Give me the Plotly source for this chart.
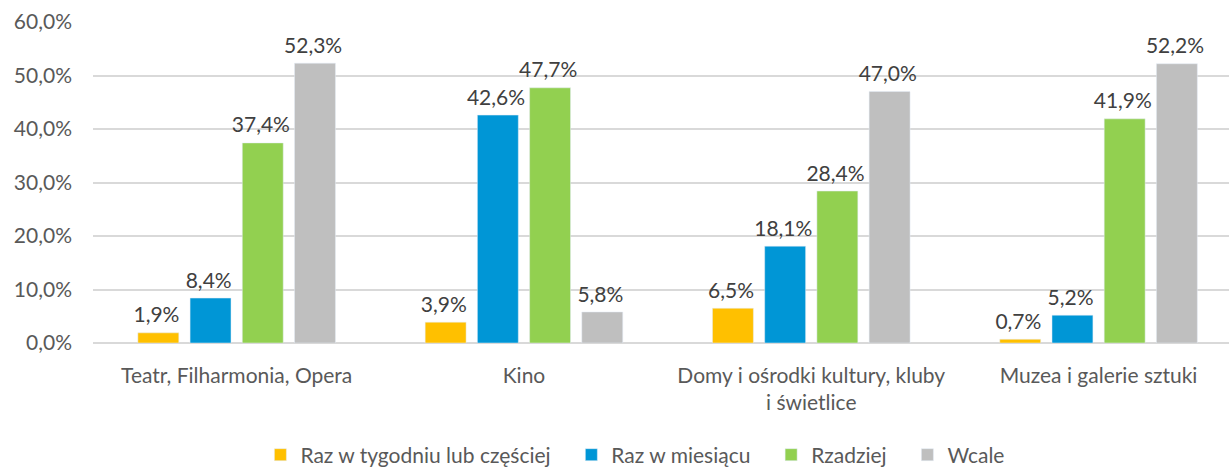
import plotly.graph_objects as go

categories = ["Teatr, Filharmonia, Opera", "Kino", "Domy i ośrodki kultury, kluby<br>i świetlice", "Muzea i galerie sztuki"]
series_names = ["Raz w tygodniu lub częściej", "Raz w miesiącu", "Rzadziej", "Wcale"]
weekly = [1.9, 3.9, 6.5, 0.7]
monthly = [8.4, 42.6, 18.1, 5.2]
rarely = [37.4, 47.7, 28.4, 41.9]
never = [52.3, 5.8, 47.0, 52.2]
colors = ["#FFC000", "#0096D6", "#92D050", "#BFBFBF"]
tick_vals = [0, 10, 20, 30, 40, 50, 60]
tick_text = [f"{v:.1f}%".replace(".", ",") for v in tick_vals]

font_family = "Lato, 'Open Sans', sans-serif"
FS = 21
PAD = "\u2002\u2009\u2009"  # extra spacing between legend entries
fig = go.Figure()
series = [weekly, monthly, rarely, never]
for i, (name, vals, col) in enumerate(zip(series_names, series, colors)):
    fig.add_trace(go.Bar(
        x=categories, y=vals, name=name + (PAD if i < len(series) - 1 else ""),
        marker_color=col,
        text=[f"{v:.1f}%".replace(".", ",") + "<sub>\u00a0</sub>" for v in vals],
        texttemplate="%{text}", textposition="outside", cliponaxis=False,
        constraintext="none",
        textfont=dict(size=FS, color="#404040", family=font_family),
    ))

fig.update_layout(
    width=1229, height=468,
    margin=dict(l=93, r=0, t=22, b=125, autoexpand=False),
    plot_bgcolor="white", paper_bgcolor="white",
    barmode="group", bargap=0.273, bargroupgap=0.216,
    font=dict(family=font_family, size=FS, color="#595959"),
    legend=dict(orientation="h", x=0.517, xanchor="center", xref="container",
                y=13 / 468, yanchor="middle", yref="container",
                font=dict(size=FS, color="#595959"), itemwidth=30, traceorder="normal"),
    showlegend=True,
)
fig.update_yaxes(range=[0, 60], tickmode="array", tickvals=tick_vals, ticktext=tick_text,
                 showgrid=True, gridcolor="#D9D9D9", gridwidth=1.5, zeroline=True,
                 zerolinecolor="#D9D9D9", zerolinewidth=1.5, ticks="", ticklabelstandoff=20,
                 automargin=False, tickfont=dict(size=FS, color="#595959"))
fig.update_xaxes(range=[-0.5, 3.454], showline=False, ticks="", ticklabelstandoff=18,
                 automargin=False, tickfont=dict(size=FS, color="#595959"))
fig.write_html("out.html", config={"displayModeBar": False},
               post_script="document.body.style.margin='0';document.body.style.overflow='hidden';")
